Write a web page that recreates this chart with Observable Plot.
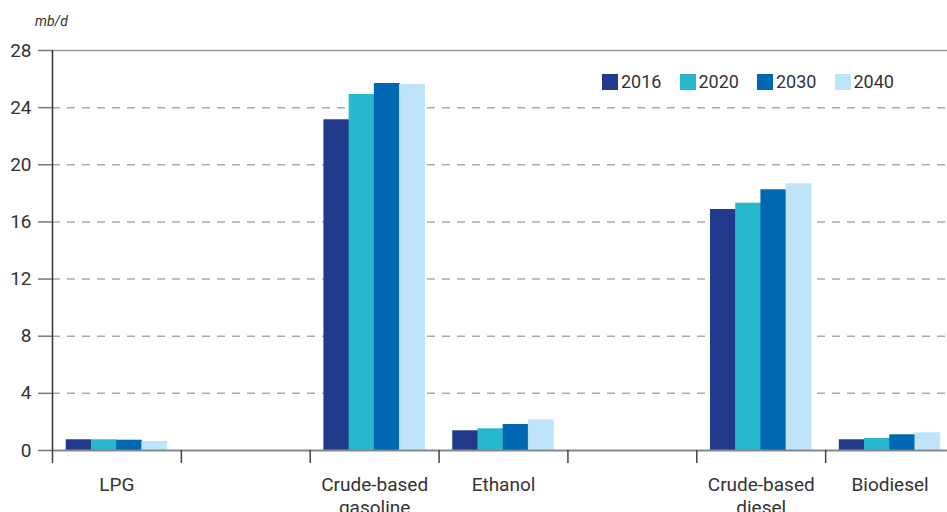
<!DOCTYPE html>
<html><head><meta charset="utf-8">
<script src="https://cdn.jsdelivr.net/npm/d3@7"></script>
<script src="https://cdn.jsdelivr.net/npm/@observablehq/plot@0.6"></script>
<style>
body{margin:0;background:#fff;font-family:Roboto,sans-serif;}
#wrap{position:relative;width:947px;height:512px;overflow:hidden;}
#unit{position:absolute;left:35px;top:13px;font-style:italic;font-size:14px;color:#333;}
#legend{position:absolute;left:602px;top:74px;display:flex;}
.item{display:flex;align-items:center;width:77.5px;font-size:18px;color:#333;height:16px;line-height:16px}
.sw{width:16px;height:16px;margin-right:3px;flex:none}
</style></head><body><div id="wrap"><div id="chart"></div><div id="unit">mb/d</div><div id="legend"></div></div>
<script>
const categories = ["LPG", "gap1", "Crude-based\ngasoline", "Ethanol", "gap2", "Crude-based\ndiesel", "Biodiesel"];
const years = ["2016", "2020", "2030", "2040"];
const v2016 = [0.75, null, 23.15, 1.38, null, 16.87, 0.75];
const v2020 = [0.75, null, 24.92, 1.52, null, 17.31, 0.84];
const v2030 = [0.72, null, 25.69, 1.82, null, 18.25, 1.10];
const v2040 = [0.63, null, 25.62, 2.15, null, 18.67, 1.24];
const colors = ["#213a8b", "#29b7ce", "#0068b2", "#bee4fa"];
const yTicks = [0, 4, 8, 12, 16, 20, 24, 28];

const series = [v2016, v2020, v2030, v2040];
const rows = [];
years.forEach((y, i) => categories.forEach((c, j) => {
  if (series[i][j] != null) rows.push({cat: c, year: y, value: series[i][j]});
}));

const W = 947, H = 512, ML = 52, MT = 50, MB = 62;
const xRange = [ML, 954];
const band = (xRange[1] - xRange[0]) / categories.length;
const pad = 14;
const bw = (band - 2 * pad) / years.length;

const marks = [
  Plot.ruleY(yTicks.filter(t => t > 0 && t < 28), {stroke: "#aaa", strokeWidth: 1.5, strokeDasharray: "8,7"}),
  Plot.ruleY([28], {stroke: "#999", strokeWidth: 1.5}),
];
years.forEach((y, i) => {
  marks.push(Plot.barY(rows.filter(r => r.year === y), {
    x: "cat", y: "value", fill: "year",
    insetLeft: pad + i * bw - 0.3, insetRight: pad + (years.length - 1 - i) * bw - 0.3
  }));
});
marks.push(
  Plot.ruleY([0], {stroke: "#888", strokeWidth: 2}),
  Plot.ruleX([categories[0]], {dx: -band / 2, y1: 0, y2: 28, stroke: "#333", strokeWidth: 1.5}),
  Plot.axisY(yTicks, {tickSize: 14, tickPadding: 7, fontSize: 19, stroke: "#777", strokeWidth: 1.5, fill: "#333", label: null}),
  Plot.axisX({tickSize: 13, dx: -band / 2, tickFormat: () => "", stroke: "#444", strokeWidth: 1.5, label: null}),
  Plot.axisX({tickSize: 0, tickPadding: 23, fontSize: 19, lineHeight: 1.26, fill: "#333", label: null,
    tickFormat: d => d.startsWith("gap") ? "" : d})
);

const chart = Plot.plot({
  width: W, height: H,
  marginLeft: ML, marginRight: 0, marginTop: MT, marginBottom: MB,
  style: {fontFamily: "Roboto, sans-serif", fontSize: "19px", color: "#333", background: "#fff"},
  x: {domain: categories, range: xRange, padding: 0, round: false, axis: null},
  y: {domain: [0, 28], axis: null},
  color: {domain: years, range: colors},
  marks
});
document.getElementById("chart").appendChild(chart);

const leg = document.getElementById("legend");
years.forEach((y, i) => {
  const it = document.createElement("div");
  it.className = "item";
  it.innerHTML = `<span class="sw" style="background:${colors[i]}"></span><span>${y}</span>`;
  leg.appendChild(it);
});
</script></body></html>
